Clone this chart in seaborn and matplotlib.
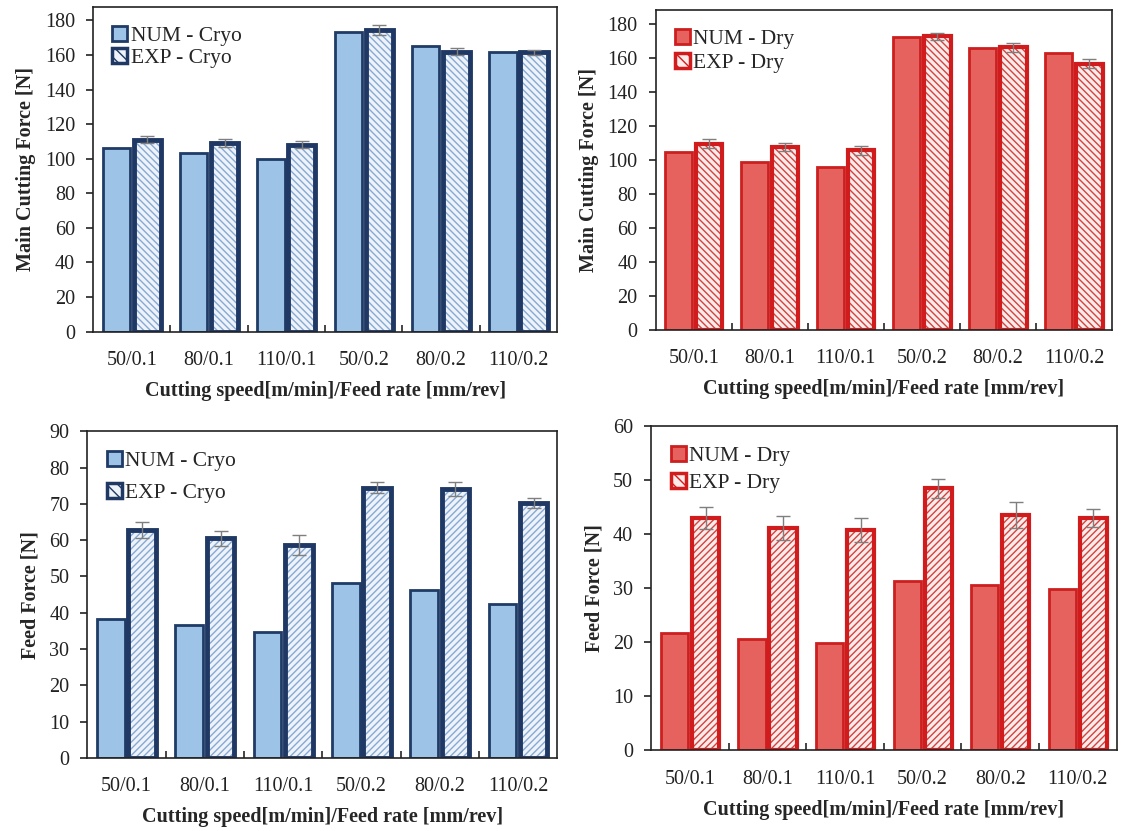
import numpy as np
import pandas as pd
import matplotlib
matplotlib.use("Agg")
import matplotlib.pyplot as plt
import seaborn as sns
from matplotlib.patches import Patch, Rectangle
from matplotlib.ticker import FixedLocator, MultipleLocator

sns.set_theme(style="ticks")
plt.rcParams['font.family'] = ['Liberation Serif', 'DejaVu Serif']
plt.rcParams['hatch.linewidth'] = 1.0

# condições de corte (velocidade / avanço)
condicoes = ['50/0.1', '80/0.1', '110/0.1', '50/0.2', '80/0.2', '110/0.2']

# força principal de corte [N]
main_num_cryo = [106, 103.5, 100, 173.5, 165, 162]
main_exp_cryo = [111, 109, 108, 174.5, 162, 161.5]
main_err_cryo = [2, 2.3, 2, 3, 2, 1.5]

main_num_dry = [104.5, 98.5, 96, 172, 165.5, 163]
main_exp_dry = [109.5, 107.5, 105.5, 172.5, 166, 156.5]
main_err_dry = [2.4, 2.4, 2.5, 2, 2.5, 2.5]

# força de avanço [N]
feed_num_cryo = [38.3, 36.6, 34.8, 48.3, 46.3, 42.3]
feed_exp_cryo = [62.8, 60.5, 58.6, 74.5, 74.0, 70.2]
feed_err_cryo = [2.1, 2.0, 2.7, 1.4, 1.9, 1.4]

feed_num_dry = [21.7, 20.7, 19.9, 31.4, 30.6, 29.8]
feed_exp_dry = [43.0, 41.2, 40.8, 48.5, 43.5, 43.0]
feed_err_dry = [2.1, 2.2, 2.2, 1.7, 2.4, 1.7]

# estilos
cryo = dict(num_fill='#9DC3E6', num_edge='#1F3B66', num_lw=2.0,
            exp_bg='#EEF3FA', hatch='#86A9D3', exp_edge='#1F3864', exp_lw=3.5)
dry = dict(num_fill='#E5625E', num_edge='#CC1F1F', num_lw=2.0,
           exp_bg='#FBECEB', hatch='#D2423E', exp_edge='#D01C1C', exp_lw=3.0)

fig = plt.figure(figsize=(11.21, 8.31), dpi=100)


def painel(pos, num, exp, err, est, nome, ylabel, ymax, passo, hatch, lspace):
    ax = fig.add_axes(pos)
    rot_num, rot_exp = f'NUM - {nome}', f'EXP - {nome}'
    df = pd.DataFrame({'cond': condicoes * 2,
                       'forca': num + exp,
                       'serie': [rot_num] * 6 + [rot_exp] * 6})
    sns.barplot(data=df, x='cond', y='forca', hue='serie', order=condicoes,
                hue_order=[rot_num, rot_exp], palette=[est['num_fill'], est['exp_bg']],
                width=0.8, gap=0.12, errorbar=None, legend=False, saturation=1, ax=ax)

    for p in ax.containers[0]:
        p.set_edgecolor(est['num_edge'])
        p.set_linewidth(est['num_lw'])
    for p in ax.containers[1]:
        p.set_edgecolor(est['hatch'])
        p.set_hatch(hatch)
        p.set_linewidth(0)
        ax.add_patch(Rectangle(p.get_xy(), p.get_width(), p.get_height(), fill=False,
                               ec=est['exp_edge'], lw=est['exp_lw'], zorder=p.get_zorder() + 0.1))

    xs = [p.get_x() + p.get_width() / 2 for p in ax.containers[1]]
    ax.errorbar(xs, exp, yerr=err, fmt='none', ecolor='#7F7F7F', elinewidth=1,
                capsize=5, capthick=1, zorder=6)

    ax.set_xlim(-0.5, 5.5)
    ax.set_ylim(0, ymax)
    ax.yaxis.set_major_locator(MultipleLocator(passo))
    ax.xaxis.set_minor_locator(FixedLocator(np.arange(0.5, 5, 1)))
    ax.tick_params(axis='x', which='major', length=0, pad=14, labelsize=14.5, colors='#222222')
    ax.tick_params(axis='x', which='minor', direction='in', length=5, width=1.2)
    ax.tick_params(axis='y', direction='out', length=5, width=1.2, pad=8,
                   labelsize=14.5, colors='#222222')
    for s in ax.spines.values():
        s.set_visible(True)
        s.set_linewidth(1.2)
        s.set_color('#222222')

    ax.set_xlabel('Cutting speed[m/min]/Feed rate [mm/rev]', fontsize=14.5,
                  fontweight='bold', labelpad=8)
    ax.set_ylabel(ylabel, fontsize=14.5, fontweight='bold', labelpad=6)

    alcas = [Patch(facecolor=est['num_fill'], edgecolor=est['num_edge'], lw=2),
             Patch(facecolor=est['exp_bg'], edgecolor=est['exp_edge'], lw=2.5, hatch='\\\\\\')]
    ax.legend(alcas, [rot_num, rot_exp], loc='upper left', frameon=False, fontsize=15.5,
              handlelength=0.7, handleheight=0.7, handletextpad=0.15,
              labelspacing=lspace, borderaxespad=0.6, borderpad=0.3)
    return ax


painel([0.083, 0.601, 0.414, 0.391], main_num_cryo, main_exp_cryo, main_err_cryo, cryo,
       'Cryo', 'Main Cutting Force [N]', 188, 20, '\\' * 5, 0.1)
painel([0.585, 0.603, 0.407, 0.385], main_num_dry, main_exp_dry, main_err_dry, dry,
       'Dry', 'Main Cutting Force [N]', 188, 20, '\\' * 5, 0.15)
painel([0.078, 0.088, 0.419, 0.393], feed_num_cryo, feed_exp_cryo, feed_err_cryo, cryo,
       'Cryo', 'Feed Force [N]', 90, 10, '/' * 5, 0.55)
painel([0.581, 0.097, 0.415, 0.390], feed_num_dry, feed_exp_dry, feed_err_dry, dry,
       'Dry', 'Feed Force [N]', 60, 10, '/' * 5, 0.35)

fig.savefig('out.png', dpi=100)
